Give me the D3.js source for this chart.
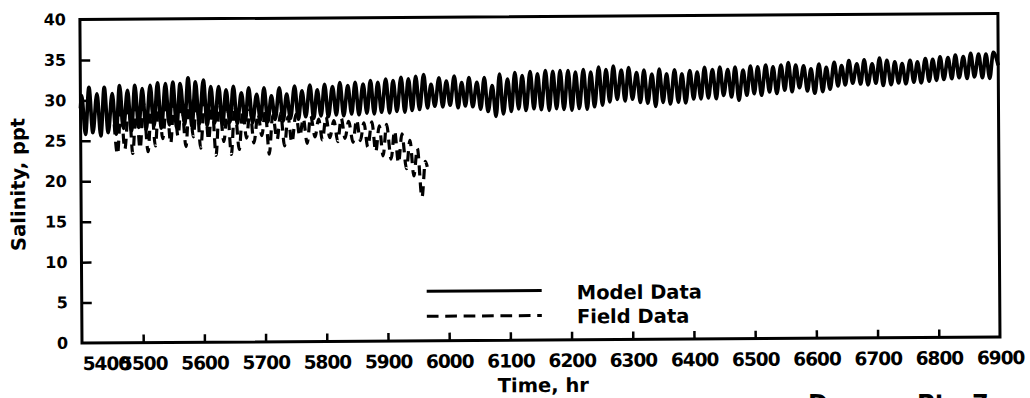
<!DOCTYPE html>
<html><head><meta charset="utf-8">
<script src="https://cdn.jsdelivr.net/npm/d3@7/dist/d3.min.js"></script>
<style>body{margin:0;background:#fff}svg{display:block}</style>
</head><body>
<svg id="c" width="1030" height="398"></svg>
<script>
// ---------- data ----------
const xTickLabels = [5400,5500,5600,5700,5800,5900,6000,6100,6200,6300,6400,6500,6600,6700,6800,6900];
const xTickMarks = [5500,5600,5700,5800,5900,6000,6100,6200,6300,6400,6500,6600,6700,6800];
const yTickLabels = [0,5,10,15,20,25,30,35,40];
const yTickMarks = [5,10,15,20,25,30,35];

const seriesNames = ["Model Data","Field Data"];

// Model data: high-water and low-water salinities (ppt) with their times (hr)
const modelStart = [5400, 29.0];
const modelEnd = [6900, 33.6];
const modelPeakTime = [5402,5414,5427,5439,5452,5464,5477,5489,5501,5514,5526,5539,5551,5563,5576,5588,5601,5613,5626,5638,5650,5663,5675,
  5688,5700,5712,5725,5737,5750,5762,5775,5787,5799,5812,5824,5837,5849,5862,5874,5886,5899,5911,5924,5936,5948,5961,
  5973,5986,5998,6011,6023,6035,6048,6060,6073,6085,6098,6110,6122,6135,6147,6160,6172,6184,6197,6209,6222,6234,6247,6259,6271,
  6284,6296,6309,6321,6334,6346,6358,6371,6383,6396,6408,6420,6433,6445,6458,6470,6483,6495,6507,6520,6532,6545,6557,6569,
  6582,6594,6607,6619,6632,6644,6656,6669,6681,6694,6706,6718,6731,6743,6756,6768,6781,6793,6805,6818,6830,6843,6855,6868,6880,6892];
const modelPeakSal = [30.6,31.6,30.8,31.6,30.8,31.8,31.2,31.8,31.4,31.8,32.1,32.0,32.2,32.0,32.7,32.2,32.4,31.6,31.6,31.2,31.6,30.8,31.4,
  30.6,31.4,30.4,31.4,30.6,31.6,31.0,31.7,31.1,31.8,31.5,32.0,31.6,32.0,31.8,32.2,32.0,32.4,32.2,32.6,32.4,32.7,32.9,
  31.7,32.5,32.1,32.7,31.9,32.5,31.9,32.5,31.5,32.9,32.3,33.1,32.7,33.2,32.9,33.3,33.2,33.3,33.3,33.1,33.4,33.1,33.7,33.4,33.8,
  33.3,33.6,33.0,33.3,32.8,33.4,32.8,33.3,32.8,33.2,33.0,33.6,33.3,33.6,33.3,33.6,33.2,33.7,33.6,33.8,33.6,33.8,34.1,33.8,
  33.7,33.3,33.9,33.5,34.1,33.7,34.3,33.9,34.4,33.9,34.6,34.3,34.1,33.9,34.3,34.1,34.5,34.4,34.7,34.6,34.9,34.7,35.1,35.0,35.0,35.2];
const modelTroughTime = [5408,5420,5433,5445,5458,5470,5483,5495,5507,5520,5532,5545,5557,5570,5582,5594,5607,5619,5632,5644,5656,5669,5681,
  5694,5706,5718,5731,5743,5756,5768,5781,5793,5805,5818,5830,5843,5855,5868,5880,5892,5905,5917,5930,5942,5954,5967,
  5979,5992,6004,6017,6029,6041,6054,6066,6079,6091,6104,6116,6128,6141,6153,6166,6178,6190,6203,6215,6228,6240,6253,6265,6277,
  6290,6302,6315,6327,6340,6352,6364,6377,6389,6402,6414,6426,6439,6451,6464,6476,6489,6501,6513,6526,6538,6551,6563,6575,
  6588,6600,6613,6625,6638,6650,6662,6675,6687,6700,6712,6725,6737,6749,6762,6774,6787,6799,6811,6824,6836,6849,6861,6874,6886];
const modelTroughSal = [25.8,26.0,25.6,26.0,25.8,26.5,26.2,26.6,26.3,26.8,26.5,26.9,26.6,27.0,26.7,27.0,26.8,27.1,26.9,27.2,27.0,27.3,27.1,
  27.4,27.2,27.5,27.3,27.6,27.5,27.8,27.6,27.9,27.8,28.0,27.9,28.1,28.0,28.2,28.1,28.3,28.2,28.4,28.3,28.5,28.6,28.8,
  29.0,28.9,29.1,28.8,29.0,28.9,28.6,28.3,27.7,28.0,28.3,28.6,28.4,28.6,28.5,28.4,28.6,28.5,28.4,28.6,28.5,28.8,29.0,29.4,29.7,
  29.5,29.7,29.3,29.2,28.8,29.3,29.1,29.3,29.2,29.7,29.7,29.8,29.7,30.1,29.9,29.5,30.1,30.3,30.1,30.5,30.3,30.7,30.5,31.0,
  30.6,30.3,30.5,30.8,31.2,31.3,31.5,31.4,31.3,31.5,31.2,31.3,31.5,31.4,31.6,31.5,31.7,31.8,31.9,32.0,32.1,32.0,32.2,32.1,32.0];

// Field data: observed salinity extremes (ppt) and times (hr)
const fieldTime = [5455,5460,5466,5472,5479,5485,5491,5497,5503,5510,5516,5522,5528,5534,5541,5547,5553,5559,5565,5572,5578,5584,5590,5596,5603,
  5609,5615,5621,5627,5634,5640,5646,5652,5659,5665,5671,5677,5683,5690,5696,5702,5708,5714,5721,5727,5733,5739,5745,5752,5758,5764,
  5770,5776,5783,5789,5795,5801,5807,5814,5820,5826,5832,5838,5845,5851,5857,5863,5869,5876,5882,5888,5894,5900,5907,5913,5919,5925,
  5932,5938,5944,5950,5957,5963,5966];
const fieldSal = [27.0,23.3,29.0,23.9,29.5,23.4,29.2,24.0,29.6,23.6,29.4,24.3,29.8,25.2,29.6,24.6,30.0,25.5,29.8,24.2,30.2,25.4,29.9,24.0,30.0,
  25.0,29.5,23.1,29.4,24.8,29.0,23.2,29.2,23.8,28.6,25.2,28.8,24.6,28.2,25.5,28.5,23.2,28.0,25.0,28.3,24.2,27.8,24.6,28.1,25.4,27.6,
  24.5,27.9,25.3,27.5,24.9,27.8,25.2,27.3,24.7,27.6,25.1,27.2,24.6,27.4,24.8,27.0,24.0,27.1,23.4,26.6,22.9,26.8,22.5,26.0,22.0,25.6,
  21.3,24.8,20.4,23.8,17.7,22.2,21.5];

// ---------- drawing ----------
const svg = d3.select("#c");
const X0 = 82, X1 = 1000, Y0 = 343, Y1 = 19.5;
const x = d3.scaleLinear().domain([5400, 6900]).range([X0, X1]);
const y = d3.scaleLinear().domain([0, 40]).range([Y0, Y1]);
const g = svg.append("g").attr("transform", `rotate(-0.37,${X0},${Y0})`);

const tickFont = "'DejaVu Sans', sans-serif";

// x axis
const xAxisG = g.append("g").attr("transform", `translate(0,${Y0})`)
  .call(d3.axisBottom(x).tickValues(xTickLabels).tickFormat(d3.format("d"))
        .tickSizeInner(0).tickSizeOuter(0).tickPadding(14));
xAxisG.select(".domain").remove();
xAxisG.selectAll("text").attr("font-family", tickFont).attr("font-weight", "bold")
  .attr("font-size", 18.5).attr("letter-spacing", -1).attr("fill", "#000");
xAxisG.selectAll(".tick").filter(d => d === 5400).select("text").attr("text-anchor", "start");
g.append("g").attr("transform", `translate(0,${Y0})`)
  .call(d3.axisBottom(x).tickValues(xTickMarks).tickFormat("").tickSizeInner(-8).tickSizeOuter(0))
  .call(a => a.select(".domain").remove())
  .selectAll("line").attr("stroke", "#000").attr("stroke-width", 2.5);

// y axis
const yAxisG = g.append("g").attr("transform", `translate(${X0},0)`)
  .call(d3.axisLeft(y).tickValues(yTickLabels).tickFormat(d3.format("d"))
        .tickSizeInner(0).tickSizeOuter(0).tickPadding(14));
yAxisG.select(".domain").remove();
yAxisG.selectAll("text").attr("font-family", tickFont).attr("font-weight", "bold")
  .attr("font-size", 16).attr("fill", "#000");
g.append("g").attr("transform", `translate(${X0},0)`)
  .call(d3.axisLeft(y).tickValues(yTickMarks).tickFormat("").tickSizeInner(-10).tickSizeOuter(0))
  .call(a => a.select(".domain").remove())
  .selectAll("line").attr("stroke", "#000").attr("stroke-width", 2.5);

// frame
g.append("rect").attr("x", X0).attr("y", Y1).attr("width", X1 - X0).attr("height", Y0 - Y1)
  .attr("fill", "none").attr("stroke", "#000").attr("stroke-width", 3);

// model series
const modelPts = [modelStart];
const nM = Math.min(modelPeakTime.length, modelPeakSal.length);
for (let i = 0; i < nM; i++) {
  modelPts.push([modelPeakTime[i], modelPeakSal[i]]);
  if (i < modelTroughTime.length && i < modelTroughSal.length) modelPts.push([modelTroughTime[i], modelTroughSal[i]]);
}
modelPts.push(modelEnd);
modelPts.sort((a, b) => a[0] - b[0]);

const line = d3.line().x(d => x(d[0])).y(d => y(d[1])).curve(d3.curveMonotoneX);
g.append("path").datum(modelPts).attr("d", line)
  .attr("fill", "none").attr("stroke", "#000").attr("stroke-width", 3.7).attr("stroke-linejoin", "round");

const fieldPts = fieldTime.map((t, i) => [t, fieldSal[i]]).filter(d => d[1] !== undefined);
g.append("path").datum(fieldPts).attr("d", line)
  .attr("fill", "none").attr("stroke", "#000").attr("stroke-width", 3.2)
  .attr("stroke-dasharray", "10,7");

// legend
const lg = g.append("g");
lg.append("line").attr("x1", 427).attr("x2", 542).attr("y1", 293.5).attr("y2", 293.5)
  .attr("stroke", "#000").attr("stroke-width", 3);
lg.append("line").attr("x1", 427).attr("x2", 542).attr("y1", 318.5).attr("y2", 318.5)
  .attr("stroke", "#000").attr("stroke-width", 3).attr("stroke-dasharray", "11.7,6.7");
lg.selectAll("text.leg").data(seriesNames).enter().append("text").attr("class", "leg")
  .attr("x", 577).attr("y", (d, i) => 302.5 + i * 24)
  .attr("font-family", tickFont).attr("font-weight", "bold").attr("font-size", 19.5)
  .attr("fill", "#000").text(d => d);

// axis titles
g.append("text").attr("x", 543).attr("y", 395)
  .attr("text-anchor", "middle").attr("font-family", tickFont).attr("font-weight", "bold")
  .attr("font-size", 19.5).attr("fill", "#000").text("Time, hr");
g.append("text").attr("transform", "translate(26,184) rotate(-90)")
  .attr("text-anchor", "middle").attr("font-family", tickFont).attr("font-weight", "bold")
  .attr("font-size", 19.5).attr("fill", "#000").text("Salinity, ppt");

// cut-off caption at bottom right (only its top edge shows, as in the scan)
svg.append("text").attr("x", 808).attr("y", 412).attr("font-family", tickFont).attr("font-weight", "bold")
  .attr("font-size", 24).attr("fill", "#000").text("Donna");
svg.append("text").attr("x", 917).attr("y", 412).attr("font-family", tickFont).attr("font-weight", "bold")
  .attr("font-size", 24).attr("fill", "#000").text("Pt.");
svg.append("text").attr("x", 972).attr("y", 412).attr("font-family", tickFont).attr("font-weight", "bold")
  .attr("font-size", 24).attr("fill", "#000").text("7");
</script>
</body></html>
